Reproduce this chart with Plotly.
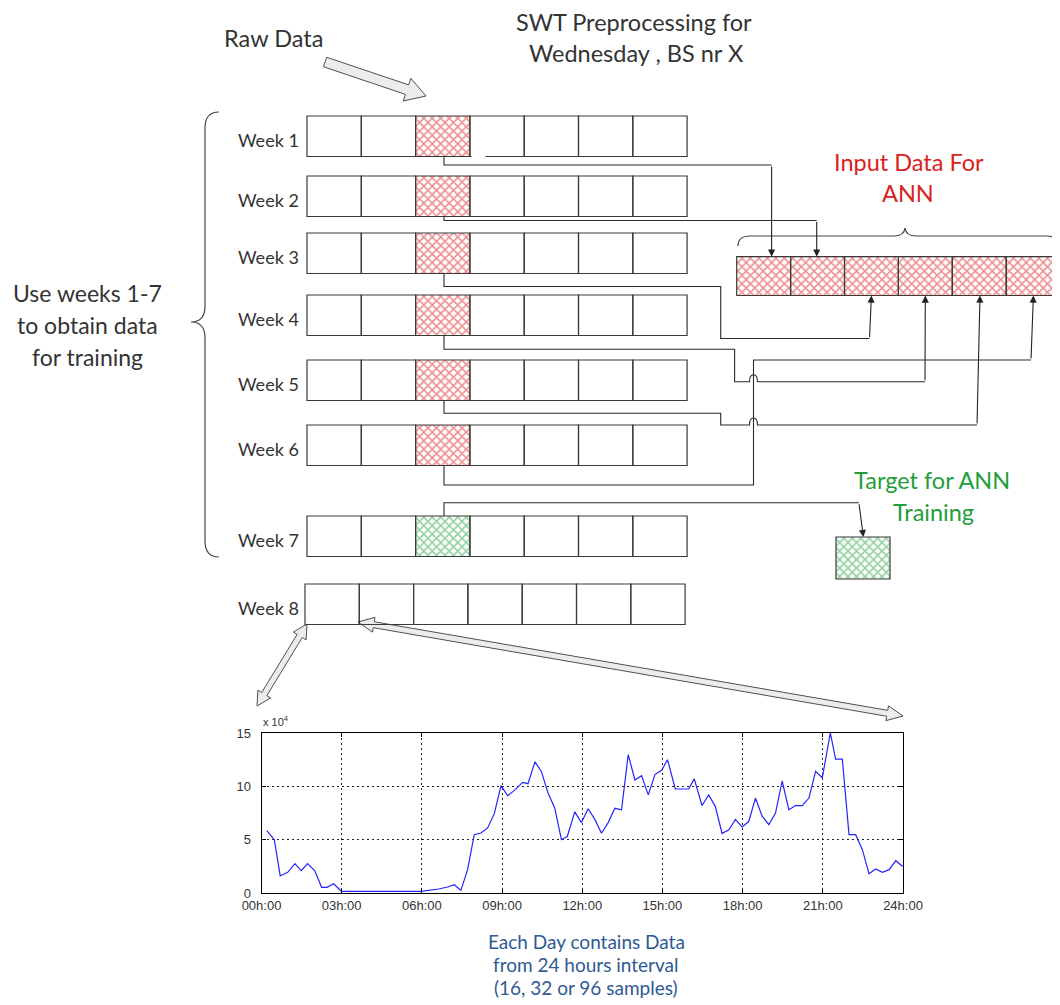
import numpy as np
import plotly.graph_objects as go

# the page adds an 8px body margin, so the figure is drawn 8px smaller and the
# diagram axis is offset to keep canvas pixel coordinates
PAGE_W, PAGE_H, OFF = 1060, 1005, 8
W, H = PAGE_W - OFF, PAGE_H - OFF

# ---- data -------------------------------------------------------------
week_labels = ["Week 1", "Week 2", "Week 3", "Week 4", "Week 5", "Week 6", "Week 7", "Week 8"]
days_per_week = 7
selected_day = 2            # Wednesday (0-based)
n_inputs = 6                # weeks 1-6 feed the ANN input

# one day of traffic (x 10^4)
hours = [0.2, 0.48, 0.7, 0.98, 1.25, 1.49, 1.72, 1.99, 2.25, 2.45, 2.7, 2.99, 5.96, 6.3,
         6.63, 6.96, 7.21, 7.46, 7.71, 7.96, 8.21, 8.46, 8.71, 8.96, 9.21, 9.46, 9.77, 9.97,
         10.23, 10.47, 10.72, 10.97, 11.22, 11.44, 11.72, 11.97, 12.22, 12.47, 12.72, 12.97,
         13.22, 13.47, 13.72, 13.97, 14.22, 14.47, 14.72, 14.97, 15.19, 15.48, 15.73, 15.98,
         16.19, 16.48, 16.73, 16.98, 17.23, 17.48, 17.73, 17.98, 18.23, 18.48, 18.73, 18.98,
         19.23, 19.48, 19.73, 19.98, 20.23, 20.48, 20.73, 20.98, 21.28, 21.48, 21.73, 21.98,
         22.23, 22.48, 22.73, 22.98, 23.23, 23.48, 23.73, 23.98]
load = [5.84, 5.0, 1.6, 1.94, 2.75, 2.1, 2.75, 2.1, 0.53, 0.53, 0.87, 0.16, 0.16, 0.25,
        0.375, 0.56, 0.78, 0.25, 2.19, 5.47, 5.62, 6.1, 7.44, 10.06, 9.12, 9.62, 10.37, 10.25,
        12.3, 11.4, 9.37, 7.97, 5.0, 5.3, 7.6, 6.6, 7.9, 6.9, 5.6, 6.6,
        7.94, 7.8, 12.97, 10.6, 11.0, 9.2, 11.1, 11.5, 12.5, 9.75, 9.75, 9.75,
        10.7, 8.2, 9.2, 8.1, 5.6, 5.9, 6.9, 6.2, 6.7, 8.9, 7.2, 6.4,
        7.5, 10.5, 7.8, 8.2, 8.2, 8.9, 11.4, 10.8, 15.0, 12.56, 12.56, 5.47,
        5.47, 4.06, 1.8, 2.25, 1.94, 2.19, 3.03, 2.5]
tick_hours = [0, 3, 6, 9, 12, 15, 18, 21, 24]
tick_labels = ["00h:00", "03h:00", "06h:00", "09h:00", "12h:00", "15h:00", "18h:00", "21h:00", "24h:00"]
y_ticks = [0, 5, 10, 15]

# ---- layout constants (pixels of the 1060x1005 page) -------------------
row_tops = [116, 176, 233, 295, 360, 425, 516, 584]
row_h = 40.5
row_x0 = [307] * 7 + [305]
cell_w = 54.3
in_x0, in_y0, in_y1, in_w = 736.7, 256.7, 295.5, 53.9
tgt = (836, 537, 890, 579)

EDGE = "#3a3a3a"
RED = "#d92222"
GREEN = "#1f9e3a"
HRED = "#dc1e1e"
HGREEN = "#22a33e"
TXT = "#333333"
FONT = "Lato"

fig = go.Figure()
shapes = []
ann = []

D = dict(xaxis="x2", yaxis="y2", hoverinfo="skip", showlegend=False)


def hatch(x0, y0, x1, y1, color):
    fig.add_trace(go.Scatter(
        x=[x0, x1, x1, x0, x0], y=[y0, y0, y1, y1, y0], mode="lines",
        fill="toself", line=dict(width=0), fillcolor="white",
        fillpattern=dict(shape="x", fgcolor=color, bgcolor="white", size=6, solidity=0.45),
        **D))


def box(x0, y0, x1, y1, width=1.2):
    shapes.append(dict(type="rect", xref="x2", yref="y2", x0=x0, y0=y0, x1=x1, y1=y1,
                       line=dict(color=EDGE, width=width), layer="above"))


def block_arrow(p0, p1, shaft, head_w, head_l, double=False):
    p0, p1 = np.array(p0, float), np.array(p1, float)
    u = (p1 - p0) / np.hypot(*(p1 - p0))
    n = np.array([-u[1], u[0]])
    pts = []
    if double:
        pts += [p0, p0 + u * head_l + n * head_w / 2, p0 + u * head_l + n * shaft / 2]
    else:
        pts += [p0 + n * shaft / 2]
    pts += [p1 - u * head_l + n * shaft / 2, p1 - u * head_l + n * head_w / 2, p1,
            p1 - u * head_l - n * head_w / 2, p1 - u * head_l - n * shaft / 2]
    if double:
        pts += [p0 + u * head_l - n * shaft / 2, p0 + u * head_l - n * head_w / 2, p0]
    else:
        pts += [p0 - n * shaft / 2, p0 + n * shaft / 2]
    pts = np.array(pts)
    fig.add_trace(go.Scatter(x=pts[:, 0], y=pts[:, 1], mode="lines", fill="toself",
                             fillcolor="#ececec", line=dict(color="#505050", width=1), **D))


def text(x, y, s, size, color=TXT, anchor="center", family=FONT):
    ann.append(dict(x=x, y=y, xref="x2", yref="y2", text=s, showarrow=False,
                    xanchor=anchor, yanchor="middle", borderpad=0,
                    font=dict(family=family, size=size, color=color)))


def arrow(x_from, y_from, x_to, y_to):
    ann.append(dict(x=x_to, y=y_to, ax=x_from, ay=y_from, xref="x2", yref="y2",
                    axref="x2", ayref="y2", text="", showarrow=True, arrowhead=2,
                    arrowsize=1.3, arrowwidth=1.1, arrowcolor="#222", standoff=0))


# ---- week rows ---------------------------------------------------------
for i, lab in enumerate(week_labels):
    top, x0 = row_tops[i], row_x0[i]
    if i < n_inputs:
        hatch(x0 + selected_day * cell_w, top, x0 + (selected_day + 1) * cell_w, top + row_h, HRED)
    elif i == n_inputs:
        hatch(x0 + selected_day * cell_w, top, x0 + (selected_day + 1) * cell_w, top + row_h, HGREEN)
    for d in range(days_per_week):
        box(x0 + d * cell_w, top, x0 + (d + 1) * cell_w, top + row_h)
    text(268, top + row_h / 2 + 4, lab, 18)

# small gap in week 1 bottom edge where the connector leaves
shapes.append(dict(type="line", xref="x2", yref="y2", x0=471.5, x1=485.5,
                   y0=row_tops[0] + row_h, y1=row_tops[0] + row_h,
                   line=dict(color="white", width=3), layer="above"))

# ---- ANN input vector and target ----------------------------------------
for k in range(n_inputs):
    hatch(in_x0 + k * in_w, in_y0, in_x0 + (k + 1) * in_w, in_y1, HRED)
for k in range(n_inputs):
    box(in_x0 + k * in_w, in_y0, min(in_x0 + (k + 1) * in_w, 1059), in_y1)
hatch(*tgt, HGREEN)
box(*tgt)

# ---- connectors --------------------------------------------------------
cx = 444
hop = lambda xc, y: f" L {xc-4} {y} Q {xc-4} {y-7} {xc} {y-7} Q {xc+4} {y-7} {xc+4} {y}"
paths = [
    f"M {cx} 157 L {cx} 165 L 771.6 165",
    f"M {cx} 216.5 L {cx} 220.5 L 816.7 220.5",
    f"M {cx} 273.5 L {cx} 286.5 L 720.7 286.5 L 720.7 338.5 L 869.5 338.5",
    f"M {cx} 335.5 L {cx} 349.3 L 734.6 349.3 L 734.6 381.7" + hop(753.5, 381.7) + " L 925 381.7",
    f"M {cx} 400.5 L {cx} 413.3 L 720.7 413.3 L 720.7 425" + hop(753.5, 425) + " L 977 425",
    f"M {cx} 465.5 L {cx} 485 L 753.5 485 L 753.5 360 L 1031 360",
    f"M {cx} 516 L {cx} 502.7 L 858.9 502.7",
]
for p in paths:
    shapes.append(dict(type="path", xref="x2", yref="y2", path=p,
                       line=dict(color="#2a2a2a", width=1.1)))
arrow(771.6, 165, 771.6, in_y0)
arrow(816.7, 220.5, 816.7, in_y0)
arrow(869.5, 338.5, 871.4, in_y1)
arrow(925, 381.7, 925.3, in_y1)
arrow(977, 425, 980, in_y1)
arrow(1031, 360, 1033.4, in_y1)
arrow(858.9, 502.7, 863.4, tgt[1])

# ---- braces ------------------------------------------------------------
shapes.append(dict(type="path", xref="x2", yref="y2", line=dict(color="#444", width=1.2),
                   path="M 219 112 Q 205 112 205 128 L 205 306 Q 205 322 191 322 "
                        "Q 205 322 205 338 L 205 541 Q 205 557 219 557"))
shapes.append(dict(type="path", xref="x2", yref="y2", line=dict(color="#444", width=1.2),
                   path="M 738 246 Q 738 236 750 236 L 894 236 Q 904 236 905 228 "
                        "Q 906 236 916 236 L 1047 236 Q 1058 236 1058 246"))

# ---- hollow block arrows -----------------------------------------------
block_arrow((325, 62), (426, 96), 10, 24, 20)
block_arrow((307, 624), (257, 706), 6, 15, 14, double=True)
block_arrow((358, 622), (903, 716), 6, 15, 16, double=True)

# ---- texts -------------------------------------------------------------
text(634, 22, "SWT Preprocessing for", 23.5)
text(636, 53, "Wednesday , BS nr X", 23.5)
text(273, 38, "Raw Data", 23.5)
text(87, 293, "Use weeks 1-7", 23)
text(87, 325, "to obtain data", 23)
text(87, 357, "for training", 23)
text(909, 162, "Input Data For", 23.5, RED)
text(908, 193, "ANN", 23.5, RED)
text(932, 480, "Target for ANN", 23.5, GREEN)
text(933, 512, "Training", 23.5, GREEN)
text(586, 941, "Each Day contains Data", 19, "#2f5a93")
text(586, 964, "from 24 hours interval", 19, "#2f5a93")
text(586, 987, "(16, 32 or 96 samples)", 19, "#2f5a93")
text(262, 721, "x 10<sup>4</sup>", 11, "#333", anchor="left", family="Liberation Sans")

# ---- small daily plot --------------------------------------------------
fig.add_trace(go.Scatter(x=hours, y=load, mode="lines", line=dict(color="#2424ff", width=1.2),
                         hoverinfo="skip", showlegend=False))

px0, px1, py0, py1 = 261.5, 903, 733, 893
ax_common = dict(showline=True, linecolor="black", linewidth=1, mirror="ticks", ticks="inside",
                 ticklen=4, tickcolor="black", showgrid=True, gridcolor="#222",
                 griddash="2px,3px", gridwidth=1, zeroline=False, automargin=False,
                 tickfont=dict(family="Liberation Sans", size=13, color="#333"))
fig.update_layout(
    width=W, height=H, margin=dict(l=0, r=0, t=0, b=0, autoexpand=False),
    paper_bgcolor="white", plot_bgcolor="rgba(0,0,0,0)", showlegend=False,
    xaxis=dict(domain=[(px0 - OFF) / W, (px1 - OFF) / W], range=[0, 24], tickvals=tick_hours,
               ticktext=tick_labels, anchor="y", **ax_common),
    yaxis=dict(domain=[1 - (py1 - OFF) / H, 1 - (py0 - OFF) / H], range=[0, 15], tickvals=y_ticks,
               anchor="x", ticklabelstandoff=7, **ax_common),
    xaxis2=dict(domain=[0, 1], range=[OFF, PAGE_W], visible=False, anchor="y2", fixedrange=True,
                automargin=False),
    yaxis2=dict(domain=[0, 1], range=[PAGE_H, OFF], visible=False, anchor="x2", fixedrange=True,
                automargin=False),
    shapes=shapes, annotations=ann,
)

fig.write_html("out.html")
